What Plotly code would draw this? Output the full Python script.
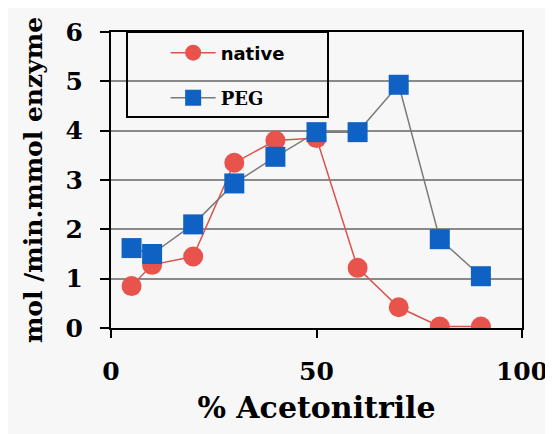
import plotly.graph_objects as go

acetonitrile = [5, 10, 20, 30, 40, 50, 60, 70, 80, 90]
native = [0.85, 1.28, 1.45, 3.35, 3.8, 3.85, 1.22, 0.42, 0.03, 0.03]
peg = [1.62, 1.5, 2.1, 2.93, 3.47, 3.97, 3.97, 4.93, 1.8, 1.05]
x_ticks = [0, 50, 100]
y_ticks = [0, 1, 2, 3, 4, 5, 6]

serif = "DejaVu Serif"

fig = go.Figure()
fig.add_trace(go.Scatter(
    x=acetonitrile, y=native, name="native", mode="lines+markers",
    line=dict(color="#d9544d", width=1.5),
    marker=dict(symbol="circle", size=20, color="#e8534c"),
    legend="legend",
))
fig.add_trace(go.Scatter(
    x=acetonitrile, y=peg, name="PEG", mode="lines+markers",
    line=dict(color="#7a7a7a", width=1.5),
    marker=dict(symbol="square", size=20, color="#0f62c4"),
    legend="legend2",
))

# page has an 8px body margin: figure is sized/positioned to compensate
fig.update_layout(
    width=545, height=426,
    margin=dict(l=103, r=31, t=24, b=106),
    paper_bgcolor="#f7f7f7", plot_bgcolor="#f7f7f7",
    showlegend=True,
    legend=dict(
        x=0.133, y=(328 - 53) / 296, xanchor="left", yanchor="middle",
        bgcolor="rgba(0,0,0,0)", borderwidth=0,
        font=dict(family="DejaVu Sans", size=18, color="black", weight="bold"),
        itemwidth=45,
    ),
    legend2=dict(
        x=0.133, y=(328 - 98) / 296, xanchor="left", yanchor="middle",
        bgcolor="rgba(0,0,0,0)", borderwidth=0,
        font=dict(family="DejaVu Serif", size=18, color="black", weight="bold"),
        itemwidth=45,
    ),
    xaxis=dict(
        range=[0, 100], tickvals=x_ticks, showgrid=False, zeroline=False,
        showline=True, linecolor="black", linewidth=2, mirror=True, automargin=False,
        ticks="outside", ticklen=8, tickwidth=2, tickcolor="black",
        ticklabelstandoff=12,
        tickfont=dict(family=serif, size=25, color="black", weight="bold"),
        title=dict(text="% Acetonitrile", standoff=12,
                   font=dict(family=serif, size=30, color="black", weight="bold")),
    ),
    yaxis=dict(
        range=[0, 6], tickvals=y_ticks, showgrid=True, gridcolor="#8a8a8a", gridwidth=1.5,
        zeroline=False, showline=True, linecolor="black", linewidth=2, mirror=True,
        automargin=False,
        ticks="outside", ticklen=9, tickwidth=2, tickcolor="black",
        ticklabelstandoff=12,
        tickfont=dict(family=serif, size=25, color="black", weight="bold"),
        title=dict(text="mol /min.mmol enzyme", standoff=16,
                   font=dict(family=serif, size=25, color="black", weight="bold")),
    ),
)

# legend box frame
fig.add_shape(type="rect", xref="paper", yref="paper",
              x0=(127 - 111) / 411, x1=(328 - 111) / 411,
              y0=(328 - 117) / 296, y1=1.0,
              line=dict(color="black", width=2), fillcolor="rgba(0,0,0,0)")

fig.write_html("out.html")
